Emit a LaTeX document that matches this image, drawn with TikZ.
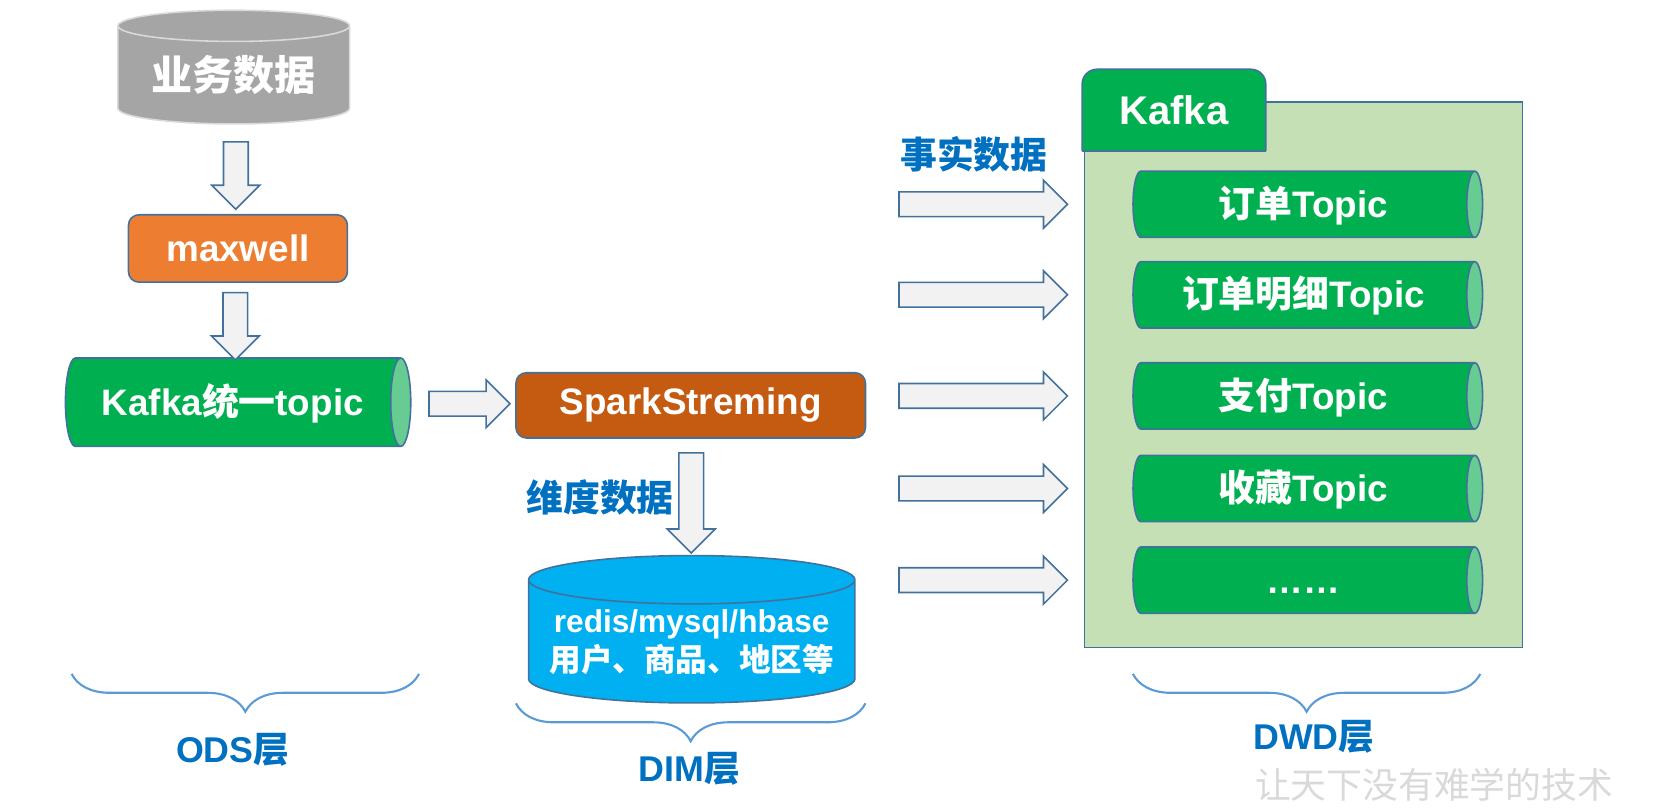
\documentclass[tikz,border=0pt]{standalone}
\usepackage{fontspec}
\setmainfont{Liberation Sans}
\newfontfamily\cjk{Noto Sans CJK SC}
\usetikzlibrary{shapes.geometric, shapes.arrows, decorations.pathreplacing, positioning, calc}
\definecolor{edgeblue}{RGB}{65, 113, 156}
\definecolor{bizgray}{RGB}{165, 165, 165}
\definecolor{bizline}{RGB}{217, 217, 217}
\definecolor{maxorange}{RGB}{237, 125, 49}
\definecolor{sparkorange}{RGB}{197, 90, 17}
\definecolor{kgreen}{RGB}{0, 176, 80}
\definecolor{kend}{RGB}{102, 204, 145}
\definecolor{dbblue}{RGB}{0, 176, 240}
\definecolor{arrowfill}{RGB}{242, 242, 242}
\definecolor{dwdgreen}{RGB}{197, 224, 180}
\definecolor{labelblue}{RGB}{0, 112, 192}
\definecolor{bracecol}{RGB}{91, 155, 213}
\tikzset{
  bigfont/.style={font=\fontsize{35}{42}\selectfont\bfseries},
  procbox/.style={rectangle, rounded corners=10pt, draw=edgeblue, line width=1.5pt, text=white, bigfont},
  pipe/.style={cylinder, draw=edgeblue, line width=1.5pt, cylinder uses custom fill, cylinder body fill=kgreen, cylinder end fill=kend, inner sep=0pt, text height=29.5pt, text depth=4.5pt, text=white, bigfont},
  dbcyl/.style={cylinder, shape border rotate=90, line width=1.5pt, cylinder uses custom fill, inner sep=0pt, text=white, align=center},
  barrow/.style={single arrow, draw=edgeblue, fill=arrowfill, line width=1.5pt, inner sep=11pt, single arrow head extend=11pt, single arrow tip angle=90},
  flowtext/.style={text=labelblue, bigfont},
  layerbrace/.style={draw=bracecol, decorate, decoration={brace, mirror, amplitude=36pt}, line width=2pt},
  layertext/.style={text=labelblue, font=\fontsize{34}{40}\selectfont\bfseries},
}
\begin{document}
\begin{tikzpicture}[x=1pt, y=-1pt]
        \useasboundingbox (0,0) rectangle (1570,770);
        % ODS side
        \node[dbcyl, draw=bizline, cylinder body fill=bizgray, cylinder end fill=bizgray, minimum width=220, minimum height=108, aspect=0.19, font=\fontsize{39}{46}\selectfont\bfseries] (biz) at (222,71.5) {\cjk 业务数据};
        \node[procbox, fill=maxorange, minimum width=208, minimum height=64] (maxwell) at (226,236) {maxwell};
        \node[pipe, minimum height=328, minimum width=84, aspect=0.56] (kafkaall) at (221,382) {Kafka{\cjk 统一}topic};

        % DIM side
        \node[procbox, fill=sparkorange, minimum width=332, minimum height=62] (spark) at (656,385) {SparkStreming};
        \node[dbcyl, draw=edgeblue, cylinder body fill=dbblue, cylinder end fill=dbblue, minimum width=310, minimum height=140, aspect=0.17, font=\fontsize{30}{37}\selectfont\bfseries] (dimdb) at (657,609.5) {redis/mysql/hbase\\{\cjk 用户、商品、地区等}};
        \node[flowtext] (dimtxt) at (570,472) {\cjk 维度数据};

        % DWD side
        \node[rectangle, draw=edgeblue, fill=dwdgreen, line width=1.5pt, minimum width=416, minimum height=518] (dwd) at (1238,356) {};
        \node[minimum width=174, minimum height=77] (kafka) at (1115,104.5) {};
        \filldraw[draw=edgeblue, fill=kgreen, line width=1.5pt] (kafka.south east) [rounded corners=14pt] |- (kafka.north) -| (kafka.south west);
        \draw[edgeblue, line width=1.5pt] (kafka.south west) -- (kafka.south east);
        \node[text=white, font=\fontsize{38}{44}\selectfont\bfseries] at (kafka) {Kafka};
        \node[pipe, minimum height=332, minimum width=63, aspect=0.44] (t1) at (1238,194) {{\cjk 订单}Topic};
        \node[pipe, minimum height=332, minimum width=63, aspect=0.44] (t2) at (1238,280) {{\cjk 订单明细}Topic};
        \node[pipe, minimum height=332, minimum width=63, aspect=0.44] (t3) at (1238,376) {{\cjk 支付}Topic};
        \node[pipe, minimum height=332, minimum width=63, aspect=0.44] (t4) at (1238,464) {{\cjk 收藏}Topic};
        \node[pipe, minimum height=332, minimum width=63, aspect=0.44] (t5) at (1238,551) {……};
        \node[flowtext] (facttxt) at (925,147) {\cjk 事实数据};

        % Block arrows
        \node[barrow, shape border rotate=270, minimum height=64] (a1) at ($(biz.south)!0.5!(maxwell.north)$) {};
        \node[barrow, shape border rotate=270, minimum height=64] (a2) at ($(maxwell.south)!0.5!(kafkaall.north)$) {};
        \node[barrow, minimum height=77] (a3) at ($(kafkaall.east)!0.5!(spark.west)$) {};
        \node[barrow, shape border rotate=270, minimum height=95] (a4) at ($(spark.south)!0.5!(dimdb.north)$) {};
        \node[barrow, minimum height=160] (f1) at (928,0 |- t1) {};
        \node[barrow, minimum height=160] (f2) at (928,0 |- t2) {};
        \node[barrow, minimum height=160] (f3) at (928,0 |- t3) {};
        \node[barrow, minimum height=160] (f4) at (928,0 |- t4) {};
        \node[barrow, minimum height=160] (f5) at (928,0 |- t5) {};

        % Layers
        \draw[layerbrace] (68,640) -- (398,640);
        \draw[layerbrace] (490,668) -- (822,668);
        \draw[layerbrace] (1076,640) -- (1406,640);
        \node[layertext] (ods) at (221,712) {ODS{\cjk 层}};
        \node[layertext] (dim) at (655,730) {DIM{\cjk 层}};
        \node[layertext] (dwdl) at (1248,700) {DWD{\cjk 层}};
        \node[text=black!15, font=\fontsize{34}{40}\selectfont] (mark) at (1362,745) {\cjk 让天下没有难学的技术};
    \end{tikzpicture}
\end{document}
